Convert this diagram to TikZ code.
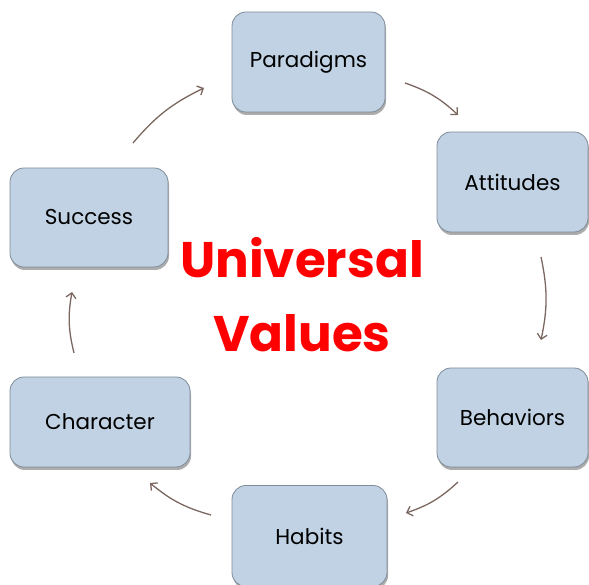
\documentclass[tikz,border=0pt]{standalone}
\usepackage{fontspec}
\setmainfont{Poppins}
\usetikzlibrary{shadows,arrows.meta}
\definecolor{boxfill}{HTML}{C0D2E4}
\definecolor{boxline}{HTML}{7F8C99}
\definecolor{arrowcol}{HTML}{7B6660}
\tikzset{
  valbox/.style={draw=boxline, line width=0.8pt, fill=boxfill, rounded corners=14pt,
    drop shadow={shadow xshift=1pt, shadow yshift=-3pt, opacity=0.5, fill=black!65},
    font=\fontsize{21.5}{24}\selectfont, text=black, inner sep=0pt},
  cyc/.style={draw=arrowcol, line width=1.3pt, -{Straight Barb[length=5pt,width=10pt]}, bend left=12},
}
\begin{document}
\begin{tikzpicture}[x=1pt,y=1pt]
\useasboundingbox (0,0) rectangle (589,585);
\node[valbox, minimum width=153pt, minimum height=100pt] (par) at (308.5,523) {Paradigms};
\node[valbox, minimum width=151pt, minimum height=100pt] (att) at (512.5,403) {Attitudes};
\node[valbox, minimum width=151pt, minimum height=99pt] (beh) at (512.5,167.5) {Behaviors};
\node[valbox, minimum width=155pt, minimum height=101pt] (hab) at (309.5,49) {Habits};
\node[valbox, minimum width=180pt, minimum height=90pt] (cha) at (100,163) {Character};
\node[valbox, minimum width=158pt, minimum height=99pt] (suc) at (89,367.5) {Success};
\node[text=red, font=\bfseries\fontsize{50}{74}\selectfont, align=center] (uv) at (302,290) {Universal\\Values};
\coordinate (a1s) at (133,442); \coordinate (a1e) at (204,497);
\coordinate (a2s) at (405,502); \coordinate (a2e) at (458,470);
\coordinate (a3s) at (541,328); \coordinate (a3e) at (541,245);
\coordinate (a4s) at (458,103); \coordinate (a4e) at (406,72);
\coordinate (a5s) at (211,70);  \coordinate (a5e) at (150,102);
\coordinate (a6s) at (74,232);  \coordinate (a6e) at (72,293);
\draw[cyc] (a1s) to (a1e);
\draw[cyc] (a2s) to (a2e);
\draw[cyc] (a3s) to (a3e);
\draw[cyc] (a4s) to (a4e);
\draw[cyc] (a5s) to (a5e);
\draw[cyc] (a6s) to (a6e);
\end{tikzpicture}
\end{document}
